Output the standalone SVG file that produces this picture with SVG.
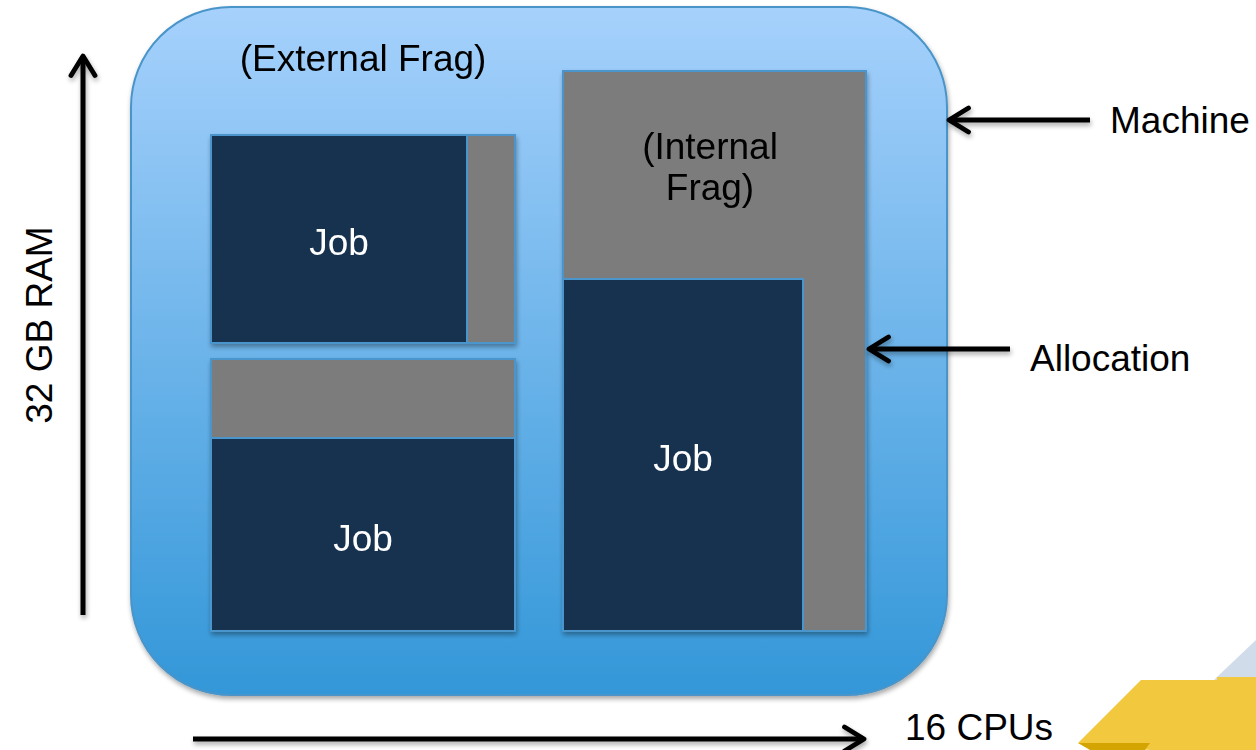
<svg xmlns="http://www.w3.org/2000/svg" width="1256" height="750" viewBox="0 0 1256 750">
<defs>
<linearGradient id="mg" x1="0" y1="0" x2="0" y2="1">
<stop offset="0" stop-color="#a6d1fc"/>
<stop offset="1" stop-color="#3397d8"/>
</linearGradient>
<filter id="sh" x="-10%" y="-10%" width="120%" height="120%">
<feGaussianBlur in="SourceAlpha" stdDeviation="2.5"/>
<feOffset dx="1" dy="3" result="b"/>
<feComponentTransfer><feFuncA type="linear" slope="0.35"/></feComponentTransfer>
<feMerge><feMergeNode/><feMergeNode in="SourceGraphic"/></feMerge>
</filter>
<marker id="ah" viewBox="0 0 10 10" refX="8.5" refY="5" markerWidth="6" markerHeight="6" orient="auto-start-reverse" markerUnits="strokeWidth">
<path d="M2,1 L8.5,5 L2,9" fill="none" stroke="#000" stroke-width="1.6" stroke-linecap="round" stroke-linejoin="round"/>
</marker>
<style>
.t{font-family:"Liberation Sans",Arial,sans-serif;font-size:37px;fill:#000}
.jt{font-family:"Liberation Sans",Arial,sans-serif;font-size:37px;fill:#fff;text-anchor:middle}
.gray{fill:#7b7b7b;stroke:#4a95cc;stroke-width:2}
.job{fill:#16304f;stroke:#4a95cc;stroke-width:2}
.ar{stroke:#000;stroke-width:5;fill:none;marker-end:url(#ah)}
</style>
</defs>
<rect width="1256" height="750" fill="#fff"/>
<g id="deco">
<polygon points="1217,677 1256,640 1256,750 1150,750" fill="#d0dcea"/>
<polygon points="1078,743 1141,680 1217,680 1217,677 1256,677 1256,750 1150,750" fill="#f2c83e"/>
<polygon points="1078,743 1150,743 1145,750 1090,750" fill="#d4a400"/>
</g>
<g id="machine" filter="url(#sh)">
<rect x="131" y="7" width="816" height="688" rx="100" ry="100" fill="url(#mg)" stroke="#4a94c8" stroke-width="2"/>
<text class="t" x="363" y="71" text-anchor="middle">(External Frag)</text>
</g>
<g id="alloc1" filter="url(#sh)">
<rect class="gray" x="211" y="135" width="304" height="208"/>
<rect class="job" x="211" y="135" width="256" height="208"/>
<text class="jt" x="339" y="255">Job</text>
</g>
<g id="alloc2" filter="url(#sh)">
<rect class="gray" x="211" y="359" width="304" height="272"/>
<rect class="job" x="211" y="438" width="304" height="193"/>
<text class="jt" x="363" y="551">Job</text>
</g>
<g id="alloc3" filter="url(#sh)">
<rect class="gray" x="563" y="71" width="303" height="560"/>
<rect class="job" x="563" y="279" width="240" height="352"/>
<text class="t" x="710" y="159" text-anchor="middle" fill="#000">(Internal</text>
<text class="t" x="710" y="200" text-anchor="middle">Frag)</text>
<text class="jt" x="683" y="471">Job</text>
</g>
<g id="connectors" filter="url(#sh)">
<line class="ar" x1="1090" y1="120" x2="949" y2="120"/>
<line class="ar" x1="1010" y1="349" x2="869" y2="349"/>
<line class="ar" x1="83" y1="615" x2="83" y2="56"/>
<line class="ar" x1="193" y1="739" x2="864" y2="739"/>
</g>
<g id="labels">
<text class="t" x="1110" y="133">Machine</text>
<text class="t" x="1030" y="371">Allocation</text>
<text class="t" x="905" y="740">16 CPUs</text>
<text class="t" x="0" y="0" text-anchor="middle" transform="translate(52,325) rotate(-90)">32 GB RAM</text>
</g>
</svg>
